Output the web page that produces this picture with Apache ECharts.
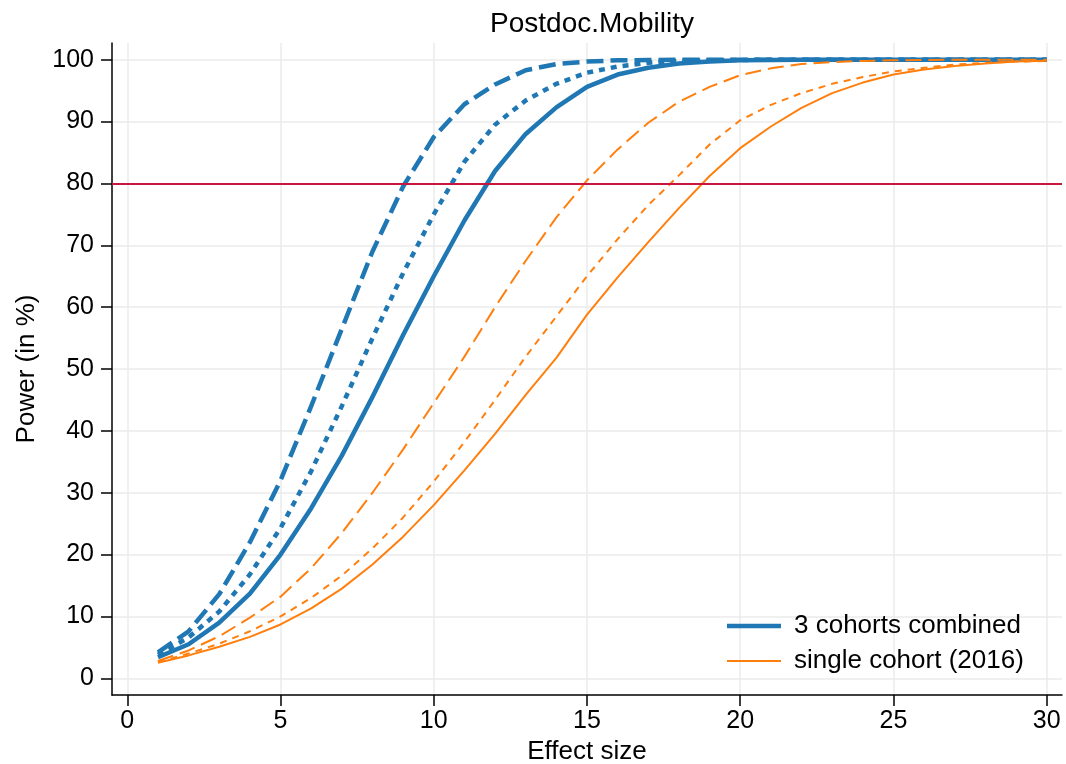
<!DOCTYPE html>
<html>
<head>
<meta charset="utf-8">
<title>Postdoc.Mobility</title>
<script src="https://cdn.jsdelivr.net/npm/echarts@6/dist/echarts.min.js"></script>
<style>
  html, body { margin: 0; padding: 0; background: #fff; }
  #chart { width: 1066px; height: 764px; }
</style>
</head>
<body>
<div id="chart"></div>
<script>
// effect sizes on the x axis
var effect = [1, 2, 3, 4, 5, 6, 7, 8, 9, 10, 11, 12, 13, 14, 15,
  16, 17, 18, 19, 20, 21, 22, 23, 24, 25, 26, 27, 28, 29, 30];

// 3 cohorts combined (blue): solid, dotted, dashed
var combinedSolid = [3.4, 5.5, 9, 13.7, 20, 27.5, 36, 45.5, 55.5, 65, 74, 82, 88, 92.3, 95.6,
  97.6, 98.7, 99.4, 99.7, 99.9, 99.95, 99.98, 100, 100, 100, 100, 100, 100, 100, 100];
var combinedDot = [3.8, 6.6, 10.8, 16.8, 24.3, 33.5, 44, 55, 65.5, 75, 83.5, 89.5, 93.4, 96.1, 97.9,
  98.9, 99.5, 99.8, 99.9, 99.95, 100, 100, 100, 100, 100, 100, 100, 100, 100, 100];
var combinedDash = [4.2, 7.6, 13.6, 22, 32, 44, 56.5, 69, 79.5, 87.5, 92.8, 96, 98.3, 99.3, 99.7,
  99.9, 99.95, 100, 100, 100, 100, 100, 100, 100, 100, 100, 100, 100, 100, 100];

// single cohort 2016 (orange): solid, short dash, long dash
var singleSolid = [2.5, 3.7, 5.1, 6.7, 8.7, 11.3, 14.5, 18.4, 22.9, 28, 33.6, 39.5, 45.8, 51.8, 58.8,
  64.8, 70.5, 76, 81.2, 85.7, 89.2, 92.2, 94.6, 96.3, 97.6, 98.4, 99, 99.4, 99.7, 99.85];
var singleShort = [2.6, 4, 5.6, 7.6, 10, 13, 16.6, 21, 26, 31.8, 38.2, 45, 52, 58.5, 65,
  71, 76.5, 81.3, 86.3, 90.2, 92.7, 94.6, 96.1, 97.2, 98.1, 98.7, 99.2, 99.5, 99.7, 99.8];
var singleLong = [2.8, 4.5, 6.8, 9.8, 13.2, 17.8, 23.5, 30, 37, 44.5, 52, 60, 67.5, 74.5, 80.5,
  85.5, 89.8, 93.2, 95.6, 97.5, 98.6, 99.3, 99.6, 99.8, 99.9, 99.95, 100, 100, 100, 100];

var xTicks = [0, 5, 10, 15, 20, 25, 30];
var yTicks = [0, 10, 20, 30, 40, 50, 60, 70, 80, 90, 100];
var targetPower = 80;

var BLUE = "#1f77b4";
var ORANGE = "#ff7f0e";
var FONT = "'Liberation Sans', Arial, sans-serif";

function pairs(ys) {
  return effect.map(function (x, i) {
    return [x, ys[i]];
  });
}

function lineSeries(name, ys, color, width, dash) {
  return {
    name: name,
    type: "line",
    data: pairs(ys),
    symbol: "none",
    smooth: false,
    itemStyle: { color: color },
    lineStyle: { color: color, width: width, type: dash, cap: "butt", join: "round" },
    emphasis: { disabled: true },
    silent: true
  };
}

var chart = echarts.init(document.getElementById("chart"));

var series = [
  lineSeries("3 cohorts combined", combinedSolid, BLUE, 4.5, "solid"),
  lineSeries("combined dotted", combinedDot, BLUE, 4.5, [6, 6]),
  lineSeries("combined dashed", combinedDash, BLUE, 4.5, [17, 7]),
  lineSeries("single cohort (2016)", singleSolid, ORANGE, 2, "solid"),
  lineSeries("single short dash", singleShort, ORANGE, 2, [7, 6]),
  lineSeries("single long dash", singleLong, ORANGE, 2, [16, 7])
];

// 80% power reference line
series[0].markLine = {
  silent: true,
  symbol: "none",
  label: { show: false },
  lineStyle: { color: "#c8163f", width: 2, type: "solid" },
  data: [{ yAxis: targetPower }]
};

chart.setOption({
  animation: false,
  backgroundColor: "#fff",
  textStyle: { fontFamily: FONT, color: "#000" },
  title: {
    text: "Postdoc.Mobility",
    left: 587,
    textAlign: "center",
    top: 5,
    textStyle: { fontFamily: FONT, fontSize: 28, fontWeight: "normal", color: "#000" }
  },
  grid: {
    left: 112,
    right: 4,
    top: 43,
    bottom: 69,
    containLabel: false,
    outerBoundsMode: "none"
  },
  legend: {
    data: [
      { name: "3 cohorts combined", icon: "path://M0,0H54V4.5H0Z" },
      { name: "single cohort (2016)", icon: "path://M0,0H54V2H0Z" }
    ],
    orient: "vertical",
    left: 722,
    top: 608,
    itemWidth: 54,
    itemHeight: 14,
    itemGap: 9,
    selectedMode: false,
    itemStyle: { borderWidth: 0 },
    textStyle: { fontFamily: FONT, fontSize: 26, color: "#000", padding: [0, 0, 0, 8] }
  },
  xAxis: {
    type: "value",
    min: -0.5,
    max: 30.5,
    name: "Effect size",
    nameLocation: "middle",
    nameGap: 38,
    nameTextStyle: { fontFamily: FONT, fontSize: 26, color: "#000" },
    axisLine: { show: true, onZero: false, lineStyle: { color: "#000", width: 1.5 } },
    axisTick: { show: true, length: 11, customValues: xTicks, lineStyle: { color: "#000", width: 1.5 } },
    axisLabel: { customValues: xTicks, margin: 14, fontFamily: FONT, fontSize: 25, color: "#000" },
    splitLine: { show: true, lineStyle: { color: "#ebebeb", width: 1.5 } }
  },
  yAxis: {
    type: "value",
    min: -2.7,
    max: 102.7,
    name: "Power (in %)",
    nameLocation: "middle",
    nameGap: 72,
    nameTextStyle: { fontFamily: FONT, fontSize: 26, color: "#000" },
    axisLine: { show: true, onZero: false, lineStyle: { color: "#000", width: 1.5 } },
    axisTick: { show: true, length: 11, customValues: yTicks, lineStyle: { color: "#000", width: 1.5 } },
    axisLabel: { customValues: yTicks, margin: 18, fontFamily: FONT, fontSize: 25, color: "#000" },
    splitLine: { show: true, lineStyle: { color: "#ebebeb", width: 1.5 } }
  },
  series: series
});
</script>
</body>
</html>
